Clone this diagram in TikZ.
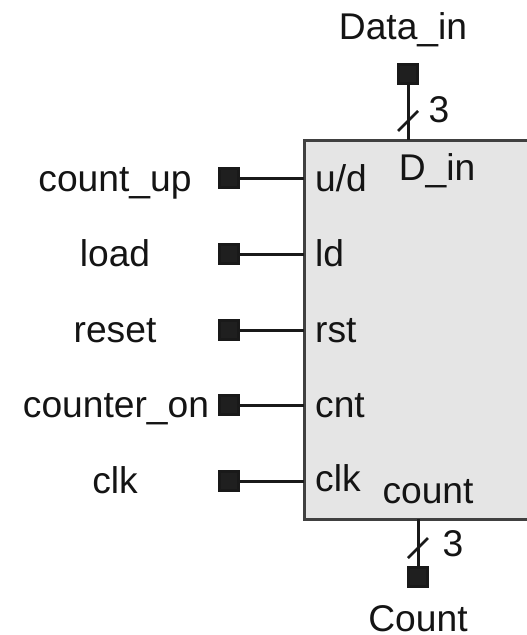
\documentclass[tikz,border=0pt]{standalone}
\usepackage{fontspec}
\setmainfont{Liberation Sans}
\begin{document}
\begin{tikzpicture}[x=1pt,y=-1pt,
  lbl/.style={inner sep=0pt,font=\fontsize{37.2}{37.2}\selectfont,text=black!92},
  pin/.style={draw=black!90,fill=black!88,line width=2.4pt,minimum size=19pt,inner sep=0pt,outer sep=0pt},
  wire/.style={line width=3pt,draw=black!90},
  slash/.style={line width=2.6pt,draw=black!90}]
\useasboundingbox (0,0) rectangle (527,635);
\fill[black!10] (304,140) rectangle (527,519);
\draw[line width=3pt,draw=black!75] (527,140) -- (304,140) -- (304,519) -- (527,519);
\coordinate (topport) at (408,140);
\coordinate (botport) at (418,519);
\foreach \n/\y in {a/178,b/254,c/330,d/405,e/481}{
  \node[pin] (pin\n) at (229,\y) {};
  \coordinate (port\n) at (304,\y);
  \draw[wire] (pin\n) -- (port\n);
}
\node[lbl,anchor=base west] (ina) at (315,191) {u/d};
\node[lbl,anchor=base west] (inb) at (315,266) {ld};
\node[lbl,anchor=base west] (inc) at (315,342) {rst};
\node[lbl,anchor=base west] (ind) at (315,417) {cnt};
\node[lbl,anchor=base west] (ine) at (315,491) {clk};
\node[lbl,anchor=base] (na) at (115,191) {count\_up};
\node[lbl,anchor=base] (nb) at (115,266) {load};
\node[lbl,anchor=base] (nc) at (115,342) {reset};
\node[lbl,anchor=base] (nd) at (116,417) {counter\_on};
\node[lbl,anchor=base] (ne) at (115,493) {clk};
\node[pin] (dpin) at (408,74) {};
\draw[wire] (dpin) -- (topport);
\draw[slash] (398,131) -- (418,111);
\node[lbl,anchor=base] (dlabel) at (403,39) {Data\_in};
\node[lbl,anchor=base] (three1) at (439,122) {3};
\node[lbl,anchor=base] (dinl) at (437,180) {D\_in};
\node[pin] (cpin) at (418,577) {};
\draw[wire] (botport) -- (cpin);
\draw[slash] (408,558) -- (428,538);
\node[lbl,anchor=base] (countl) at (428,503) {count};
\node[lbl,anchor=base] (three2) at (453,556) {3};
\node[lbl,anchor=base] (clabel) at (418,631) {Count};
\end{tikzpicture}
\end{document}
